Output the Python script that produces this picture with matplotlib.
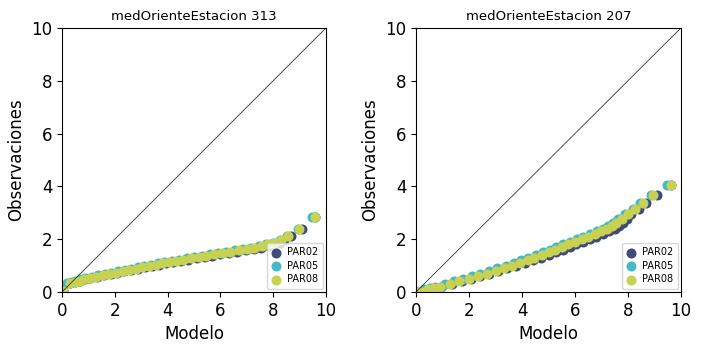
import matplotlib
matplotlib.use("Agg")
import matplotlib.pyplot as plt

# observed quantiles (shared) and model quantiles per run
obs_313 = [0.05, 0.33, 0.38, 0.43, 0.48, 0.53, 0.58, 0.63, 0.68, 0.73, 0.78, 0.83,
           0.88, 0.93, 0.98, 1.03, 1.08, 1.13, 1.18, 1.23, 1.28, 1.33, 1.38, 1.43,
           1.48, 1.53, 1.58, 1.63, 1.68, 1.74, 1.80, 1.87, 1.97, 2.12, 2.37, 2.85]
par02_313 = [0.05, 0.30, 0.50, 0.70, 0.88, 1.08, 1.33, 1.58, 1.84, 2.10, 2.36, 2.62,
             2.88, 3.14, 3.40, 3.66, 3.93, 4.20, 4.50, 4.79, 5.10, 5.40, 5.70, 6.00,
             6.32, 6.64, 6.96, 7.26, 7.55, 7.84, 8.05, 8.25, 8.40, 8.67, 9.10, 9.60]
par05_313 = [0.05, 0.18, 0.33, 0.50, 0.68, 0.88, 1.12, 1.37, 1.62, 1.87, 2.12, 2.37,
             2.62, 2.87, 3.12, 3.37, 3.62, 3.87, 4.15, 4.42, 4.72, 5.00, 5.30, 5.60,
             5.90, 6.22, 6.55, 6.86, 7.16, 7.48, 7.72, 7.98, 8.25, 8.52, 8.95, 9.46]
par08_313 = [0.05, 0.30, 0.48, 0.67, 0.85, 1.05, 1.30, 1.55, 1.80, 2.05, 2.30, 2.55,
             2.80, 3.05, 3.30, 3.55, 3.80, 4.05, 4.33, 4.60, 4.90, 5.18, 5.47, 5.76,
             6.06, 6.38, 6.70, 7.00, 7.28, 7.58, 7.80, 8.05, 8.30, 8.55, 8.99, 9.58]

obs_207 = [0.0, 0.0, 0.1, 0.15, 0.2, 0.3, 0.4, 0.5, 0.6, 0.7, 0.8, 0.9, 1.0, 1.1,
           1.2, 1.3, 1.4, 1.5, 1.6, 1.7, 1.8, 1.9, 2.0, 2.1, 2.2, 2.3, 2.4, 2.5,
           2.6, 2.75, 2.97, 3.16, 3.38, 3.66, 4.06]
par02_207 = [0.05, 0.30, 0.50, 0.74, 0.96, 1.36, 1.72, 2.08, 2.42, 2.77, 3.11, 3.44,
             3.78, 4.12, 4.42, 4.72, 5.01, 5.29, 5.55, 5.80, 6.05, 6.30, 6.55, 6.80,
             7.05, 7.30, 7.50, 7.66, 7.80, 7.95, 8.12, 8.40, 8.68, 9.10, 9.62]
par05_207 = [0.05, 0.15, 0.32, 0.52, 0.72, 1.08, 1.42, 1.77, 2.10, 2.43, 2.76, 3.07,
             3.38, 3.69, 3.97, 4.24, 4.51, 4.78, 5.04, 5.30, 5.55, 5.80, 6.06, 6.32,
             6.58, 6.83, 7.04, 7.25, 7.42, 7.64, 7.88, 8.17, 8.45, 8.88, 9.46]
par08_207 = [0.05, 0.25, 0.45, 0.68, 0.90, 1.29, 1.64, 2.00, 2.33, 2.67, 3.00, 3.31,
             3.63, 3.94, 4.21, 4.47, 4.74, 5.00, 5.25, 5.50, 5.75, 6.00, 6.25, 6.50,
             6.75, 7.00, 7.20, 7.40, 7.55, 7.76, 8.00, 8.28, 8.55, 8.96, 9.61]

labels = ["PAR02", "PAR05", "PAR08"]
colors = ["#414a7f", "#48b8c7", "#c7d152"]

panels = [
    ("medOrienteEstacion 313", obs_313, [par02_313, par05_313, par08_313]),
    ("medOrienteEstacion 207", obs_207, [par02_207, par05_207, par08_207]),
]

fig = plt.figure(figsize=(7.24, 3.47), dpi=100)
axes = [fig.add_axes([0.0856, 0.1585, 0.3646, 0.761]),
        fig.add_axes([0.5746, 0.1585, 0.3660, 0.761])]

for ax, (title, obs, runs) in zip(axes, panels):
    for xs, lab, col in zip(runs, labels, colors):
        ax.scatter(xs, obs, s=52, color=col, label=lab, linewidths=0)
    ax.plot([0, 10], [0, 10], color="#333333", lw=0.6)
    ax.set_xlim(0, 10)
    ax.set_ylim(0, 10)
    ax.set_xticks([0, 2, 4, 6, 8, 10])
    ax.set_yticks([0, 2, 4, 6, 8, 10])
    ax.tick_params(labelsize=12)
    ax.set_title(title, fontsize=9.5)
    ax.set_xlabel("Modelo", fontsize=12, labelpad=4)
    ax.set_ylabel("Observaciones", fontsize=12)
    ax.legend(loc="lower right", fontsize=7, handlelength=1.0, handletextpad=0.6,
              borderpad=0.45, labelspacing=0.35, borderaxespad=0.35)

fig.savefig("out.png", dpi=100)
